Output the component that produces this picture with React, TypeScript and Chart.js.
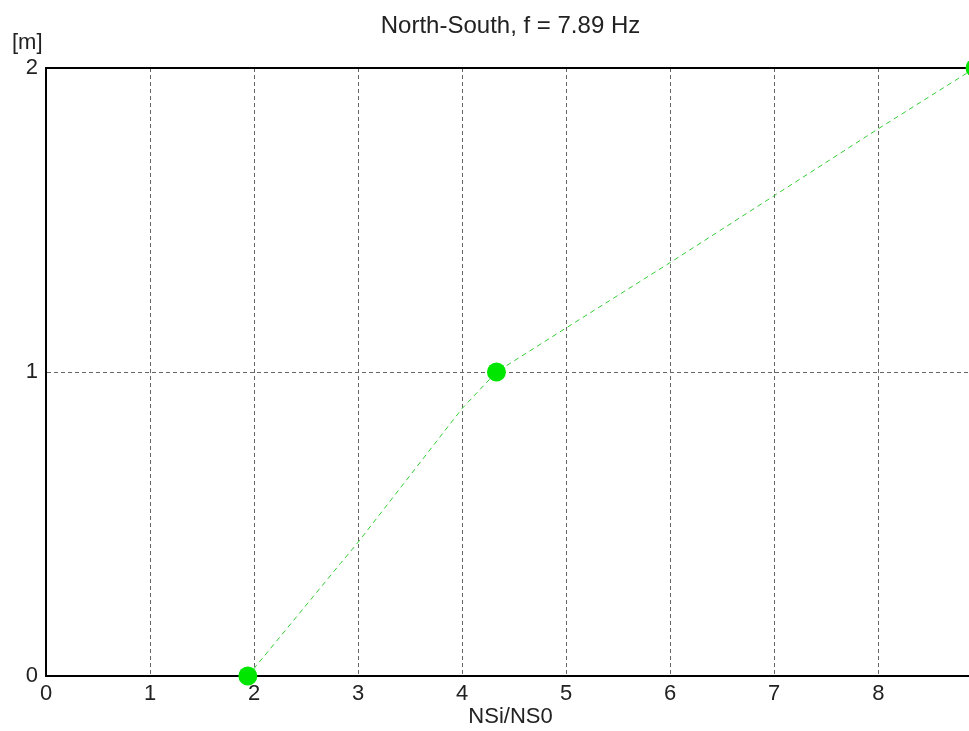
import { useEffect, useRef } from 'react';
import { Chart, registerables } from 'chart.js';

Chart.register(...registerables);

const FONT = "'Liberation Sans', Arial, Helvetica, sans-serif";

const titleText = 'North-South, f = 7.89 Hz';
const xAxisTitle = 'NSi/NS0';
const yUnitLabel = '[m]';

const xTickValues = [0, 1, 2, 3, 4, 5, 6, 7, 8];
const yTickValues = [0, 1, 2];
const xMin = 0;
const xMax = 8.93;
const yMin = 0;
const yMax = 2;

// measured points (large markers)
const markerX = [1.94, 4.33, 8.93];
const markerY = [0, 1, 2];

// dashed curve
const curveX = [1.94, 2.83, 3.0, 4.0, 4.33, 5.0, 6.0, 7.0, 8.0, 8.93];
const curveY = [0, 0.37, 0.44, 0.88, 1.0, 1.145, 1.36, 1.58, 1.8, 2.0];

const unitLabelPlugin = {
  id: 'unitLabel',
  afterDraw(chart: any) {
    const { ctx, chartArea } = chart;
    ctx.save();
    ctx.font = `22px ${FONT}`;
    ctx.fillStyle = '#222';
    ctx.textAlign = 'left';
    ctx.textBaseline = 'middle';
    ctx.fillText(yUnitLabel, chartArea.left - 34, chartArea.top - 25);
    ctx.restore();
  },
};

export default function App() {
  const canvasRef = useRef<HTMLCanvasElement | null>(null);

  useEffect(() => {
    if (!canvasRef.current) return;
    const chart = new Chart(canvasRef.current, {
      type: 'scatter',
      data: {
        datasets: [
          {
            label: 'curve',
            data: curveX.map((x, i) => ({ x, y: curveY[i] })),
            showLine: true,
            borderColor: '#33cc33',
            borderWidth: 1,
            borderDash: [5, 4],
            pointRadius: 0,
            fill: false,
            clip: false,
            order: 2,
          } as any,
          {
            label: 'points',
            data: markerX.map((x, i) => ({ x, y: markerY[i] })),
            showLine: false,
            pointRadius: 9.5,
            pointBackgroundColor: '#00e600',
            pointBorderColor: '#00e600',
            pointBorderWidth: 0,
            clip: false,
            order: 1,
          } as any,
        ],
      },
      options: {
        animation: false,
        responsive: true,
        maintainAspectRatio: false,
        events: [],
        layout: { padding: { left: 0, right: 15, top: 0, bottom: 0 } },
        plugins: {
          legend: { display: false },
          tooltip: { enabled: false },
          title: {
            display: true,
            text: titleText,
            fullSize: false,
            color: '#222',
            font: { family: FONT, size: 24, weight: 'normal' },
            padding: { top: 12, bottom: 27.2 },
          },
        },
        scales: {
          x: {
            type: 'linear',
            position: 'bottom',
            min: xMin,
            max: xMax,
            afterBuildTicks: (s: any) => {
              s.ticks = xTickValues.map((v) => ({ value: v }));
            },
            afterFit: (s: any) => {
              s.height = 55;
            },
            ticks: {
              color: '#222',
              font: { family: FONT, size: 22 },
              padding: 5,
              maxRotation: 0,
              autoSkip: false,
            },
            grid: { color: '#666', lineWidth: 1, drawTicks: false },
            border: { display: true, color: '#000', width: 2, dash: [4, 3] },
            title: {
              display: true,
              text: xAxisTitle,
              color: '#222',
              font: { family: FONT, size: 22 },
              padding: { top: 0, bottom: 1 },
            },
          },
          x2: {
            type: 'linear',
            position: 'top',
            min: xMin,
            max: xMax,
            ticks: { display: false },
            grid: { display: false, drawTicks: false },
            border: { display: true, color: '#000', width: 2 },
            afterFit: (s: any) => {
              s.height = 0;
            },
          },
          y: {
            type: 'linear',
            position: 'left',
            min: yMin,
            max: yMax,
            afterBuildTicks: (s: any) => {
              s.ticks = yTickValues.map((v) => ({ value: v }));
            },
            afterFit: (s: any) => {
              s.width = 46;
            },
            ticks: {
              color: '#222',
              font: { family: FONT, size: 22 },
              padding: 8,
              autoSkip: false,
            },
            grid: { color: '#666', lineWidth: 1, drawTicks: false },
            border: { display: true, color: '#000', width: 2, dash: [4, 3] },
          },
        },
      } as any,
      plugins: [unitLabelPlugin],
    });
    return () => chart.destroy();
  }, []);

  return (
    <div
      style={{
        position: 'fixed',
        left: 0,
        top: 0,
        width: 969,
        height: 731,
        overflow: 'hidden',
        background: '#fff',
      }}
    >
      <div style={{ position: 'relative', width: 990, height: 731 }}>
        <canvas ref={canvasRef} />
      </div>
    </div>
  );
}
